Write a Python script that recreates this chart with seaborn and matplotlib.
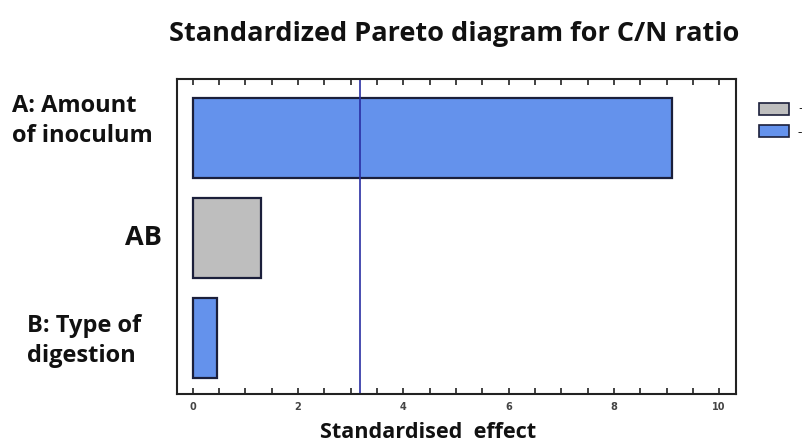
import matplotlib
matplotlib.use("Agg")
import matplotlib.pyplot as plt
import matplotlib.transforms as mtransforms
from matplotlib.patches import Patch
import seaborn as sns
import pandas as pd

# ---- data ----
factors = ["A: Amount\nof inoculum", "AB", "B: Type of\ndigestion"]
effects = [9.11, 1.29, 0.46]
signs = ["-", "+", "-"]
critical_value = 3.18
x_ticks = [0, 2, 4, 6, 8, 10]
title = "Standardized Pareto diagram for C/N ratio"
x_label = "Standardised  effect"
legend_labels = ["+", "-"]

df = pd.DataFrame({"factor": factors, "effect": effects, "sign": signs})
palette = {"+": "#bebebe", "-": "#6492ec"}

sns.set_style("white")
plt.rcParams["font.family"] = ["Open Sans", "DejaVu Sans"]

fig = plt.figure(figsize=(8.03, 4.43), dpi=100)
ax = fig.add_axes([177 / 803, 1 - 394 / 443, (736 - 177) / 803, (394 - 79) / 443])

sns.barplot(data=df, y="factor", x="effect", hue="sign", palette=palette,
            dodge=False, orient="h", width=0.8, edgecolor="#1b1f3b",
            linewidth=1.6, legend=False, ax=ax, order=factors, saturation=1)

ax.axvline(critical_value, color="#2a2fa3", linewidth=1.2)

ax.set_xlim(-0.3, 10.32)
ax.set_ylim(2.56, -0.59)
ax.set_xticks(x_ticks)
ax.set_xticks([v / 2 for v in range(0, 21)], minor=True)
ax.set_xticklabels([str(t) for t in x_ticks], fontsize=7, fontweight="bold",
                   color="#444444", family="DejaVu Sans")
ax.tick_params(axis="x", which="both", direction="in", top=True, bottom=True,
               length=4, width=1.2, color="#222222", pad=6)
ax.tick_params(axis="y", left=False, labelleft=False)
ax.set_ylabel("")
ax.set_xlabel("")
for s in ax.spines.values():
    s.set_visible(True)
    s.set_color("#222222")
    s.set_linewidth(1.5)

fig.text(428 / 803, 1 - 432 / 443, x_label, ha="center", va="center",
         fontsize=15.6, fontweight="bold", color="#111111")

# category labels
trans = mtransforms.blended_transform_factory(fig.transFigure, ax.transData)
label_x = [12 / 803, 162 / 803, 27 / 803]
label_ha = ["left", "right", "left"]
label_dy = [-0.17, 0.0, 0.03]
label_size = [17, 19.5, 17]
for i, lab in enumerate(factors):
    ax.text(label_x[i], i + label_dy[i], lab, transform=trans, ha=label_ha[i],
            multialignment="left", va="center", fontsize=label_size[i],
            fontweight="bold", linespacing=1.38, color="#111111")

fig.suptitle(title, x=454 / 803, y=1 - 34 / 443, va="center",
             fontsize=19.5, fontweight="bold", color="#111111")

handles = [Patch(facecolor=palette[l], edgecolor="#1b1f3b", linewidth=1.2)
           for l in legend_labels]
fig.legend(handles, legend_labels, loc="upper left",
           bbox_to_anchor=(752 / 803, 1 - 96 / 443), frameon=False,
           fontsize=10, handlelength=2.2, handleheight=0.9,
           labelspacing=0.5, handletextpad=0.6, borderpad=0)

fig.savefig("out.png", dpi=100)
